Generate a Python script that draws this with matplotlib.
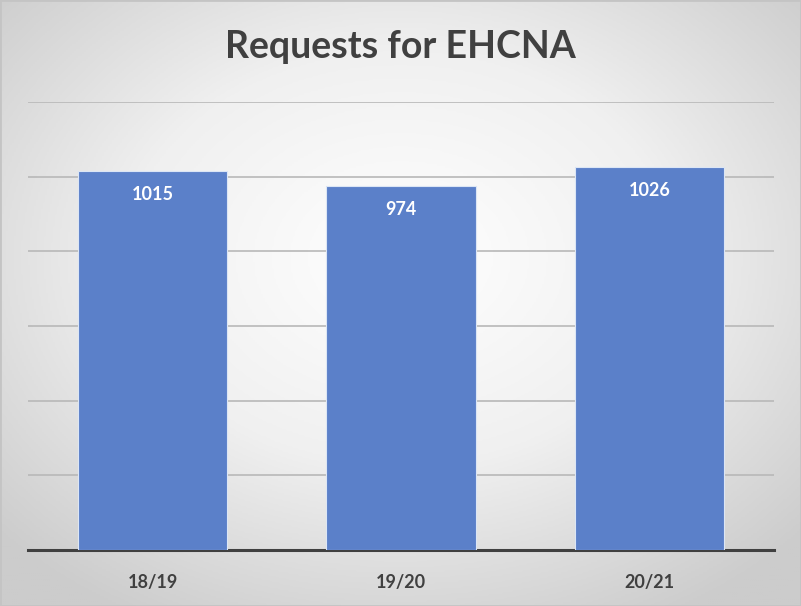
import numpy as np
from matplotlib import pyplot as plt
from matplotlib.colors import LinearSegmentedColormap

years = ['18/19', '19/20', '20/21']
requests = [1015, 974, 1026]
yticks = [0, 200, 400, 600, 800, 1000, 1200]

plt.rcParams['font.family'] = ['Lato', 'DejaVu Sans']

fig = plt.figure(figsize=(8.01, 6.06), dpi=100)

# radial grey background
bg = fig.add_axes([0, 0, 1, 1], zorder=-10)
gx, gy = np.meshgrid(np.linspace(-1, 1, 400), np.linspace(-1, 1, 300))
r = np.sqrt((gx * 0.95) ** 2 + ((gy + 0.15) * 0.95) ** 2)
cmap = LinearSegmentedColormap.from_list('bg', ['#ffffff', '#f0f0f0', '#cccccc'])
bg.imshow(r, cmap=cmap, aspect='auto', extent=[0, 1, 0, 1], vmin=0, vmax=1.3)
bg.set_axis_off()
fig.patches.append(plt.Rectangle((0, 0), 1, 1, transform=fig.transFigure,
                                 fill=False, edgecolor='#c4c4c4', lw=2))

ax = fig.add_axes([28.25 / 801, 56 / 606, 745.5 / 801, 448 / 606])
ax.patch.set_alpha(0)
bars = ax.bar(years, requests, width=0.6, color='#5b80c9',
              edgecolor='#dce6f5', linewidth=0.8, zorder=3)
for b, v in zip(bars, requests):
    ax.text(b.get_x() + b.get_width() / 2, v - 63, str(v), ha='center',
            va='center', color='white', fontsize=13, fontweight='bold', zorder=4)

ax.set_xlim(-0.5, 2.5)
ax.set_ylim(0, 1200)
ax.set_yticks(yticks)
ax.yaxis.grid(True, color='#b8b8b8', lw=1.2)
ax.set_axisbelow(True)
ax.tick_params(axis='y', left=False, labelleft=False)
ax.tick_params(axis='x', bottom=False, labelsize=13, labelcolor='#404040', pad=14)
for lbl in ax.get_xticklabels():
    lbl.set_fontweight('bold')
for s in ['top', 'right', 'left']:
    ax.spines[s].set_visible(False)
ax.spines['bottom'].set_color('#404040')
ax.spines['bottom'].set_linewidth(2.2)

fig.text(0.5, 1 - 47 / 606, 'Requests for EHCNA', ha='center', va='center',
         fontsize=27, fontweight='bold', color='#404040')

fig.savefig('out.png', dpi=100)
